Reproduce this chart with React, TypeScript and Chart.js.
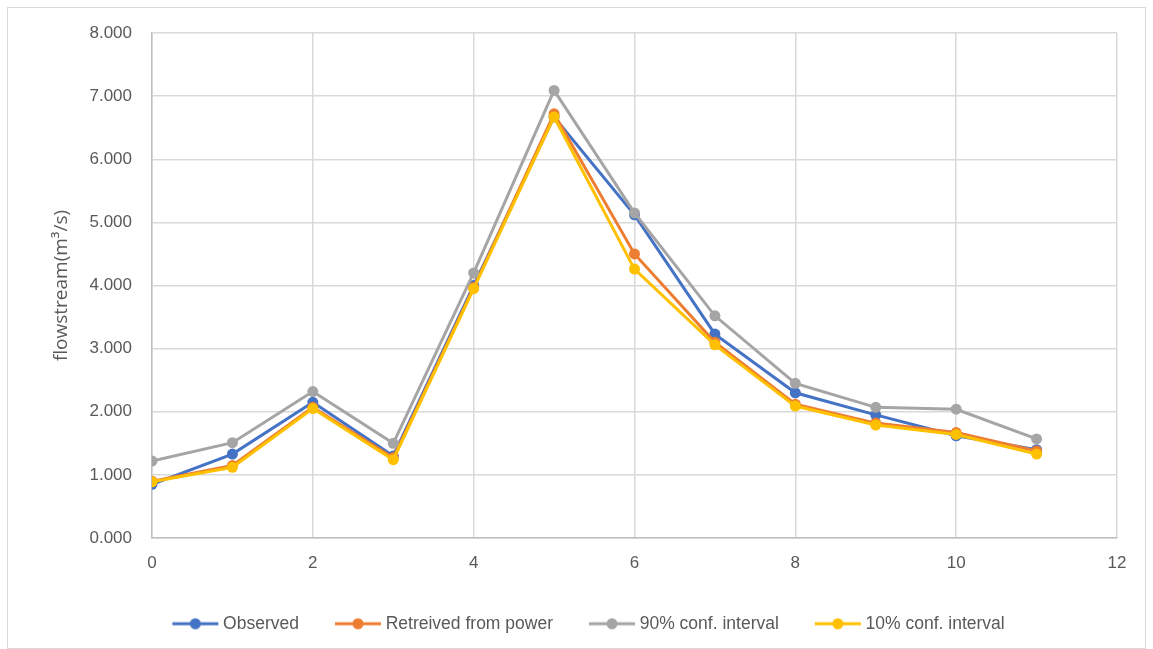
import React, { useEffect, useRef } from "react";
import { Chart, registerables } from "chart.js";

Chart.register(...registerables);

const xValues = [0, 1, 2, 3, 4, 5, 6, 7, 8, 9, 10, 11];
const observed = [0.85, 1.33, 2.15, 1.3, 4.0, 6.67, 5.12, 3.23, 2.3, 1.95, 1.62, 1.4];
const retrieved = [0.9, 1.15, 2.07, 1.27, 3.97, 6.72, 4.5, 3.1, 2.12, 1.82, 1.67, 1.38];
const conf90 = [1.22, 1.51, 2.32, 1.5, 4.2, 7.09, 5.15, 3.52, 2.45, 2.07, 2.04, 1.57];
const conf10 = [0.89, 1.12, 2.05, 1.24, 3.95, 6.67, 4.26, 3.06, 2.09, 1.79, 1.64, 1.33];
const seriesNames = ["Observed", "Retreived from power", "90% conf. interval", "10% conf. interval"];
const seriesColors = ["#4472C4", "#ED7D31", "#A5A5A5", "#FFC000"];
const yTitle = "flowstream(m\u00B3/s)";

function makeLegendIcon(color: string): HTMLCanvasElement {
  const c = document.createElement("canvas");
  c.width = 50;
  c.height = 14;
  const ctx = c.getContext("2d")!;
  ctx.strokeStyle = color;
  ctx.lineWidth = 3;
  ctx.beginPath();
  ctx.moveTo(2, 7);
  ctx.lineTo(48, 7);
  ctx.stroke();
  ctx.fillStyle = color;
  ctx.beginPath();
  ctx.arc(25, 7, 5.5, 0, Math.PI * 2);
  ctx.fill();
  return c;
}

const framePlugin = {
  id: "frame",
  beforeDraw(chart: any) {
    const ctx = chart.ctx;
    ctx.save();
    ctx.fillStyle = "#ffffff";
    ctx.fillRect(0, 0, chart.width, chart.height);
    ctx.strokeStyle = "#D9D9D9";
    ctx.lineWidth = 1;
    ctx.strokeRect(7.5, 7.5, chart.width - 15, chart.height - 8);
    ctx.restore();
  },
};

const legendShiftPlugin = {
  id: "legendShift",
  afterLayout(chart: any) {
    const lg = chart.legend;
    if (lg) {
      lg.left += 28;
      lg.right += 28;
    }
  },
};

const tickFont = { family: "'Liberation Sans', Arial, sans-serif", size: 17 };
const legendFont = { family: "'Liberation Sans', Arial, sans-serif", size: 17.5 };

export default function App() {
  const ref = useRef<HTMLCanvasElement | null>(null);
  useEffect(() => {
    document.body.style.margin = "0";
    const all = [observed, retrieved, conf90, conf10];
    const icons = seriesColors.map((c) => makeLegendIcon(c));
    const datasets = all.map((vals, i) => ({
      label: seriesNames[i],
      data: xValues.map((x, j) => ({ x, y: vals[j] })),
      borderColor: seriesColors[i],
      backgroundColor: seriesColors[i],
      borderWidth: 3,
      pointRadius: 5.5,
      pointHoverRadius: 5.5,
      pointBorderWidth: 0,
      order: 4 - i,
    }));
    const chart = new Chart(ref.current!, {
      type: "line",
      data: { datasets },
      plugins: [framePlugin, legendShiftPlugin],
      options: {
        animation: false,
        responsive: false,
        layout: { padding: { left: 8, right: 36, top: 33, bottom: 6.5 } },
        scales: {
          x: {
            type: "linear",
            min: 0,
            max: 12,
            ticks: {
              stepSize: 2,
              color: "#595959",
              font: tickFont,
              padding: 15,
            },
            grid: { color: "#D9D9D9", lineWidth: 1.5, drawTicks: false },
            border: { color: "#BFBFBF", width: 1.5 },
            afterFit: (s: any) => {
              s.height = 37;
            },
          },
          y: {
            min: 0,
            max: 8,
            ticks: {
              stepSize: 1,
              color: "#595959",
              font: tickFont,
              padding: 20,
              callback: (v: any) => Number(v).toFixed(3),
            },
            grid: { color: "#D9D9D9", lineWidth: 1.5, drawTicks: false },
            border: { color: "#BFBFBF", width: 1.5 },
            title: {
              display: true,
              text: yTitle,
              color: "#595959",
              font: { family: "'Open Sans', sans-serif", size: 19 },
              padding: { top: 42, bottom: 0 },
            },
            afterFit: (s: any) => {
              s.width = 144;
            },
          },
        },
        plugins: {
          tooltip: { enabled: false },
          legend: {
            position: "bottom",
            labels: {
              usePointStyle: true,
              pointStyleWidth: 38,
              padding: 40,
              color: "#595959",
              font: legendFont,
              sort: (a: any, b: any) => a.datasetIndex - b.datasetIndex,
              generateLabels: (ch: any) =>
                ch.data.datasets.map((d: any, i: number) => ({
                  text: d.label,
                  pointStyle: icons[i],
                  fillStyle: seriesColors[i],
                  strokeStyle: seriesColors[i],
                  lineWidth: 0,
                  fontColor: "#595959",
                  hidden: false,
                  datasetIndex: i,
                })),
            },
          },
        },
      } as any,
    });
    return () => chart.destroy();
  }, []);
  return <canvas ref={ref} width={1153} height={649} style={{ display: "block" }} />;
}
